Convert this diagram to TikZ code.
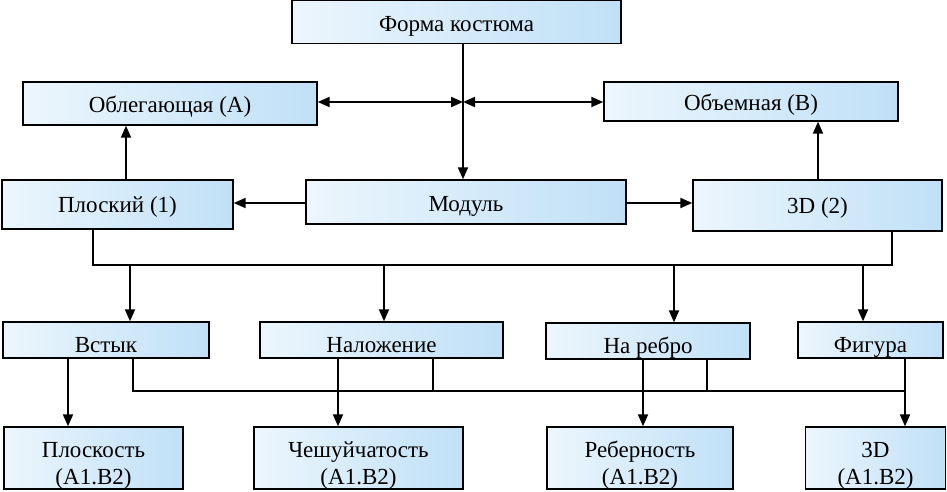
\documentclass[tikz,border=0pt]{standalone}
\usepackage{fontspec}
\setmainfont{Liberation Serif}
\usetikzlibrary{arrows.meta}
\definecolor{boxblue}{RGB}{192,224,247}
\definecolor{boxpale}{RGB}{236,246,253}
\newcommand{\twoline}[2]{\begin{tabular}[t]{@{}c@{}}#1\\#2\end{tabular}}
\tikzset{
  x=1pt,y=-1pt,
  box/.style={draw=black,line width=1.4pt,left color=boxpale,right color=boxblue,
    inner sep=0pt,font=\fontsize{23}{27}\selectfont},
  topbox/.style={box,text height=19pt,text depth=0pt},
  cenbox/.style={box,text height=15pt,text depth=0pt},
  midbox/.style={box,text height=25pt,text depth=0pt},
  lowbox/.style={box,text height=15pt,text depth=16pt},
  arr/.style={line width=1.9pt,-{Triangle[length=12pt,width=10pt]}},
  darr/.style={line width=1.9pt,{Triangle[length=12pt,width=10pt]}-{Triangle[length=12pt,width=10pt]}},
  bus/.style={line width=1.3pt},
}
\begin{document}
\begin{tikzpicture}
\useasboundingbox (0,0) rectangle (947,492);
\node[topbox,minimum width=329pt,minimum height=43pt] (forma) at (456.5,22) {Форма костюма};
\node[topbox,minimum width=294pt,minimum height=43pt] (obl) at (170,103.5) {Облегающая (А)};
\node[topbox,minimum width=294pt,minimum height=39pt] (obj) at (751,101.5) {Объемная (В)};
\node[cenbox,minimum width=231pt,minimum height=49pt] (plo) at (117.5,204.5) {Плоский (1)};
\node[topbox,minimum width=320pt,minimum height=44pt] (mod) at (466,202) {Модуль};
\node[cenbox,minimum width=249pt,minimum height=51pt] (d3) at (817.5,205.5) {3D (2)};
\node[midbox,minimum width=206pt,minimum height=36pt] (vst) at (106,340) {Встык};
\node[midbox,minimum width=243pt,minimum height=36pt] (nal) at (381.5,340) {Наложение};
\node[midbox,minimum width=204pt,minimum height=36pt] (reb) at (648,341) {На ребро};
\node[midbox,minimum width=145pt,minimum height=36pt] (fig) at (870.5,340) {Фигура};
\node[lowbox,minimum width=179pt,minimum height=62pt] (pl2) at (93.5,458) {\twoline{Плоскость}{(А1.В2)}};
\node[lowbox,minimum width=209pt,minimum height=62pt] (che) at (358.5,458) {\twoline{Чешуйчатость}{(А1.В2)}};
\node[lowbox,minimum width=186pt,minimum height=62pt] (rbn) at (640,458) {\twoline{Реберность}{(А1.В2)}};
\node[lowbox,minimum width=140pt,minimum height=62pt] (d3b) at (875.5,458) {\twoline{3D}{(А1.В2)}};
% top connectors
\coordinate (J) at (463,102);
\draw[arr] (463,0 |- forma.south) -- (463,0 |- mod.north);
\draw[darr] (obl.east |- J) -- (J);
\draw[darr] (J) -- (obj.west |- J);
\draw[arr] (126,0 |- plo.north) -- (126,0 |- obl.south);
\draw[arr] (818,0 |- d3.north) -- (818,0 |- obj.south);
\draw[arr] (mod.west |- 0,203) -- (plo.east |- 0,203);
\draw[arr] (mod.east |- 0,203) -- (d3.west |- 0,203);
% first bus
\coordinate (B1) at (93,265);
\coordinate (B2) at (892,265);
\draw[bus] (93,0 |- plo.south) -- (B1) -- (B2) -- (892,0 |- d3.south);
\draw[arr] (130,265) -- (130,0 |- vst.north);
\draw[arr] (384,265) -- (384,0 |- nal.north);
\draw[arr] (674,265) -- (674,0 |- reb.north);
\draw[arr] (863,265) -- (863,0 |- fig.north);
% second level
\draw[arr] (68,0 |- vst.south) -- (68,0 |- pl2.north);
\draw[arr] (338,0 |- nal.south) -- (338,0 |- che.north);
\draw[arr] (643,0 |- reb.south) -- (643,0 |- rbn.north);
\draw[arr] (905,0 |- fig.south) -- (905,0 |- d3b.north);
\coordinate (C1) at (133,391);
\coordinate (C2) at (905,391);
\draw[bus] (133,0 |- vst.south) -- (C1) -- (C2);
\draw[bus] (433,0 |- nal.south) -- (433,391);
\draw[bus] (707,0 |- reb.south) -- (707,391);
\end{tikzpicture}
\end{document}
